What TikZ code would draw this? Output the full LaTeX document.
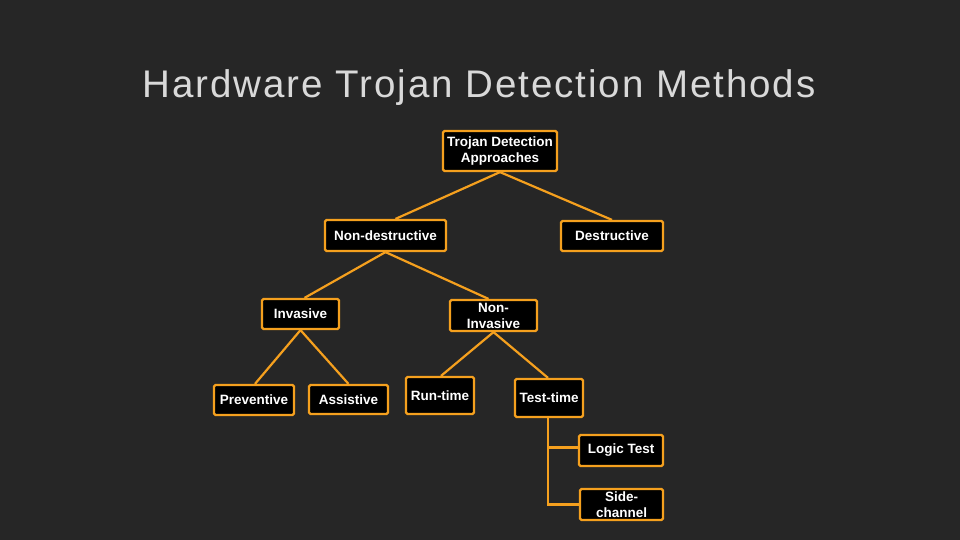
\documentclass[tikz,border=0pt]{standalone}
\usepackage{fontspec}
\setmainfont{Liberation Sans}
\begin{document}
\begin{tikzpicture}[x=1pt,y=-1pt,
  bx/.style={draw=orng, line width=2.2pt, fill=black, rounded corners=1.5pt, inner sep=0pt, text=white, font=\bfseries\fontsize{13.5}{16}\selectfont, align=center},
  ln/.style={draw=orng, line width=2.2pt}]
\definecolor{orng}{HTML}{F5A01E}
\definecolor{bg}{HTML}{262626}
\fill[bg] (0,0) rectangle (960,540);
\useasboundingbox (0,0) rectangle (960,540);
\node[text=white!85!black, font=\fontsize{38.5}{42}\selectfont\addfontfeature{LetterSpace=5}] (title) at (479,88) {Hardware Trojan Detection Methods};
\node[bx, minimum width=114pt, minimum height=40pt] (root) at (500,151) {Trojan Detection\\Approaches};
\node[bx, minimum width=121pt, minimum height=31pt] (nd) at (385.5,235.5) {Non-destructive};
\node[bx, minimum width=102pt, minimum height=30pt] (d) at (612,236) {Destructive};
\node[bx, minimum width=77pt, minimum height=30pt] (inv) at (300.5,314) {Invasive};
\node[bx, minimum width=87pt, minimum height=31pt] (ninv) at (493.5,315.5) {Non-\\Invasive};
\node[bx, minimum width=80pt, minimum height=30pt] (prev) at (254,400) {Preventive};
\node[bx, minimum width=79pt, minimum height=29pt] (ass) at (348.5,399.5) {Assistive};
\node[bx, minimum width=68pt, minimum height=37pt] (run) at (440,395.5) {Run-time};
\node[bx, minimum width=68pt, minimum height=38pt] (test) at (549,398) {Test-time};
\node[bx, minimum width=84pt, minimum height=31pt] (logic) at (621,450.5) {Logic Test};
\node[bx, minimum width=83pt, minimum height=31pt] (side) at (621.5,504.5) {Side-\\channel};
\draw[ln] (root.south) -- ([xshift=10pt]nd.north);
\draw[ln] (root.south) -- (d.north);
\draw[ln] (nd.south) -- ([xshift=4pt]inv.north);
\draw[ln] (nd.south) -- ([xshift=-5pt]ninv.north);
\draw[ln] (inv.south) -- ([xshift=1pt]prev.north);
\draw[ln] (inv.south) -- (ass.north);
\draw[ln] (ninv.south) -- ([xshift=1pt]run.north);
\draw[ln] (ninv.south) -- ([xshift=-1pt]test.north);
\coordinate (tb) at ([xshift=-1pt]test.south);
\draw[ln] (tb) |- (side.west);
\draw[ln] (tb) |- ([yshift=3pt]logic.west);
\end{tikzpicture}
\end{document}
